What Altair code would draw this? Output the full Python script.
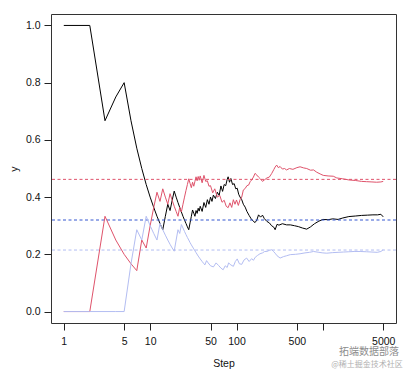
import altair as alt
import pandas as pd

# ---- data (cumulative proportions by step) ----
black_steps = [1, 2, 3, 4, 5, 6, 7, 8, 9, 10, 11, 12, 13, 14, 15, 16, 17, 18, 19, 20,
               21, 22, 23, 24, 25, 26, 27, 28, 29, 30, 31, 32, 33, 34, 35, 36, 37, 38,
               40, 42, 44, 46, 48, 50, 52, 54, 57, 60, 63, 66, 69, 72, 75, 78, 80, 83,
               86, 90, 94, 98, 102, 106, 110, 115, 120, 126, 132, 140, 148, 156, 164,
               172, 180, 190, 200, 210, 225, 240, 255, 270, 280, 295, 310, 340, 380,
               420, 470, 520, 580, 650, 720, 800, 900, 1000, 1150, 1300, 1500, 1700,
               2000, 2400, 2800, 3300, 3800, 4300, 4700, 5000]
black_vals = [1.0, 1.0, 0.667, 0.75, 0.8, 0.667, 0.571, 0.5, 0.444, 0.4, 0.364, 0.333,
              0.308, 0.286, 0.333, 0.375, 0.353, 0.389, 0.421, 0.4, 0.381, 0.364, 0.348,
              0.333, 0.32, 0.308, 0.296, 0.286, 0.31, 0.333, 0.355, 0.344, 0.333, 0.353,
              0.343, 0.361, 0.351, 0.368, 0.35, 0.381, 0.364, 0.391, 0.375, 0.4, 0.385,
              0.407, 0.395, 0.417, 0.406, 0.439, 0.42, 0.444, 0.44, 0.462, 0.471, 0.452,
              0.465, 0.444, 0.447, 0.429, 0.431, 0.41, 0.4, 0.391, 0.375, 0.365, 0.35,
              0.336, 0.324, 0.316, 0.311, 0.32, 0.338, 0.33, 0.337, 0.325, 0.315, 0.31,
              0.3, 0.295, 0.286, 0.305, 0.302, 0.307, 0.303, 0.303, 0.3, 0.297, 0.292,
              0.288, 0.296, 0.307, 0.316, 0.322, 0.321, 0.324, 0.322, 0.327, 0.332,
              0.334, 0.336, 0.337, 0.338, 0.338, 0.34, 0.331]

red_steps = [1, 2, 3, 4, 5, 6, 7, 8, 9, 10, 11, 12, 13, 14, 15, 16, 17, 18, 19, 20,
             21, 22, 23, 24, 25, 26, 27, 28, 29, 30, 31, 32, 33, 34, 35, 36, 37, 38,
             40, 42, 44, 46, 48, 50, 53, 56, 60, 64, 68, 72, 76, 80, 84, 88, 92, 96,
             100, 105, 110, 115, 120, 126, 132, 138, 144, 150, 157, 164, 172, 180,
             190, 200, 210, 225, 240, 255, 270, 280, 292, 305, 320, 340, 360, 380,
             410, 450, 500, 545, 600, 650, 720, 780, 850, 930, 1010, 1150, 1320,
             1450, 1700, 2000, 2400, 2800, 3200, 3700, 4200, 4700, 5000]
red_vals = [0.0, 0.0, 0.333, 0.25, 0.2, 0.167, 0.143, 0.25, 0.222, 0.3, 0.364, 0.417,
            0.385, 0.429, 0.4, 0.375, 0.412, 0.389, 0.368, 0.35, 0.333, 0.364, 0.348,
            0.375, 0.4, 0.423, 0.444, 0.464, 0.448, 0.433, 0.452, 0.438, 0.455, 0.471,
            0.457, 0.472, 0.459, 0.474, 0.45, 0.476, 0.455, 0.457, 0.438, 0.44, 0.415,
            0.429, 0.4, 0.406, 0.382, 0.389, 0.368, 0.363, 0.38, 0.364, 0.391, 0.375,
            0.39, 0.371, 0.391, 0.4, 0.425, 0.43, 0.44, 0.442, 0.454, 0.46, 0.47,
            0.483, 0.477, 0.47, 0.463, 0.455, 0.46, 0.467, 0.47, 0.482, 0.496, 0.505,
            0.512, 0.503, 0.507, 0.498, 0.5, 0.495, 0.5, 0.497, 0.503, 0.506, 0.502,
            0.5, 0.494, 0.495, 0.487, 0.481, 0.476, 0.474, 0.473, 0.467, 0.464, 0.46,
            0.458, 0.455, 0.454, 0.453, 0.452, 0.453, 0.455]

blue_steps = [1, 2, 3, 4, 5, 6, 7, 8, 9, 10, 11, 12, 13, 14, 15, 16, 17, 18, 19, 20,
              21, 22, 23, 24, 25, 26, 27, 28, 29, 30, 32, 34, 36, 38, 40, 42, 43, 45,
              47, 50, 54, 58, 62, 66, 70, 74, 78, 81, 86, 92, 97, 102, 108, 115, 122,
              131, 140, 150, 157, 165, 175, 187, 200, 212, 225, 240, 256, 268, 280,
              295, 320, 350, 380, 420, 480, 545, 620, 700, 780, 900, 1000, 1110, 1300,
              1500, 1730, 2000, 2300, 2700, 3200, 3700, 4260, 4700, 5000]
blue_vals = [0.0, 0.0, 0.0, 0.0, 0.0, 0.167, 0.286, 0.25, 0.333, 0.3, 0.273, 0.25,
             0.308, 0.286, 0.267, 0.25, 0.235, 0.222, 0.211, 0.25, 0.286, 0.273, 0.304,
             0.292, 0.28, 0.269, 0.259, 0.25, 0.241, 0.233, 0.219, 0.206, 0.194, 0.184,
             0.175, 0.167, 0.163, 0.178, 0.17, 0.16, 0.156, 0.17, 0.161, 0.152, 0.146,
             0.16, 0.154, 0.17, 0.163, 0.158, 0.175, 0.184, 0.167, 0.165, 0.18, 0.187,
             0.175, 0.185, 0.179, 0.19, 0.196, 0.202, 0.205, 0.21, 0.21, 0.214, 0.216,
             0.21, 0.204, 0.195, 0.187, 0.192, 0.195, 0.199, 0.2, 0.202, 0.205, 0.207,
             0.21, 0.207, 0.205, 0.204, 0.206, 0.207, 0.208, 0.209, 0.21, 0.21, 0.209,
             0.208, 0.207, 0.21, 0.216]

ref_names = ["red", "blue", "light"]
ref_vals = [0.462, 0.32, 0.215]
ref_colors = ["#DF536B", "#3557D0", "#B3BDF2"]

x_ticks = [1, 5, 10, 50, 100, 500, 1000, 5000]
y_ticks = [0.0, 0.2, 0.4, 0.6, 0.8, 1.0]

watermark_main = ["拓端数据部落"]
watermark_sub = ["@稀土掘金技术社区"]

FONT = "Liberation Sans"

def series_df(steps, vals):
    return pd.DataFrame({"Step": steps, "y": vals})

xscale = alt.Scale(type="log", domain=[0.711, 7031], nice=False)
yscale = alt.Scale(domain=[-0.04, 1.04], nice=False, zero=False)

xaxis = alt.Axis(values=x_ticks, labelExpr="datum.value == 1000 ? '' : format(datum.value, 'd')",
                 domain=False, grid=False, tickSize=7, tickColor="#222", labelFontSize=10.5,
                 labelFont=FONT, labelColor="#111", labelPadding=6, title="Step",
                 titleFont=FONT, titleFontSize=10.5, titleFontWeight="normal",
                 titleColor="#111", titlePadding=12)
yaxis = alt.Axis(values=y_ticks, format=".1f", domain=False, grid=False, tickSize=7,
                 tickColor="#222", labelFontSize=10.5, labelFont=FONT, labelColor="#111",
                 labelPadding=4, title="y", titleFont=FONT, titleFontSize=10.5,
                 titleFontWeight="normal", titleColor="#111", titlePadding=6)

def line(steps, vals, color):
    return alt.Chart(series_df(steps, vals)).mark_line(
        color=color, strokeWidth=1, clip=True).encode(
        x=alt.X("Step:Q", scale=xscale, axis=xaxis),
        y=alt.Y("y:Q", scale=yscale, axis=yaxis))

refs = alt.Chart(pd.DataFrame({"name": ref_names, "y": ref_vals})).mark_rule(
    strokeDash=[3, 2.5], strokeWidth=1).encode(
    y=alt.Y("y:Q", scale=yscale, axis=yaxis),
    color=alt.Color("name:N", scale=alt.Scale(domain=ref_names, range=ref_colors), legend=None))

wm1 = alt.Chart(pd.DataFrame({"t": watermark_main})).mark_text(
    font="Noto Sans CJK SC", color="#8c8c8c", fontSize=10).encode(
    text="t:N", x=alt.value(318), y=alt.value(338))
wm2 = alt.Chart(pd.DataFrame({"t": watermark_sub})).mark_text(
    font="Noto Sans CJK SC", color="#b0b0b0", fontSize=8).encode(
    text="t:N", x=alt.value(316), y=alt.value(351))

chart = alt.layer(
    line(black_steps, black_vals, "#000000"),
    refs,
    line(red_steps, red_vals, "#DF536B"),
    line(blue_steps, blue_vals, "#B3BDF2"),
    wm1, wm2,
).properties(
    width=345, height=309,
    autosize=alt.AutoSizeParams(type="none"),
    padding={"left": 43, "top": 6, "right": 8, "bottom": 48},
    background="white",
).configure_view(stroke="#333", strokeWidth=1)

chart.save("out.html", embed_options={"renderer": "svg", "actions": False})
